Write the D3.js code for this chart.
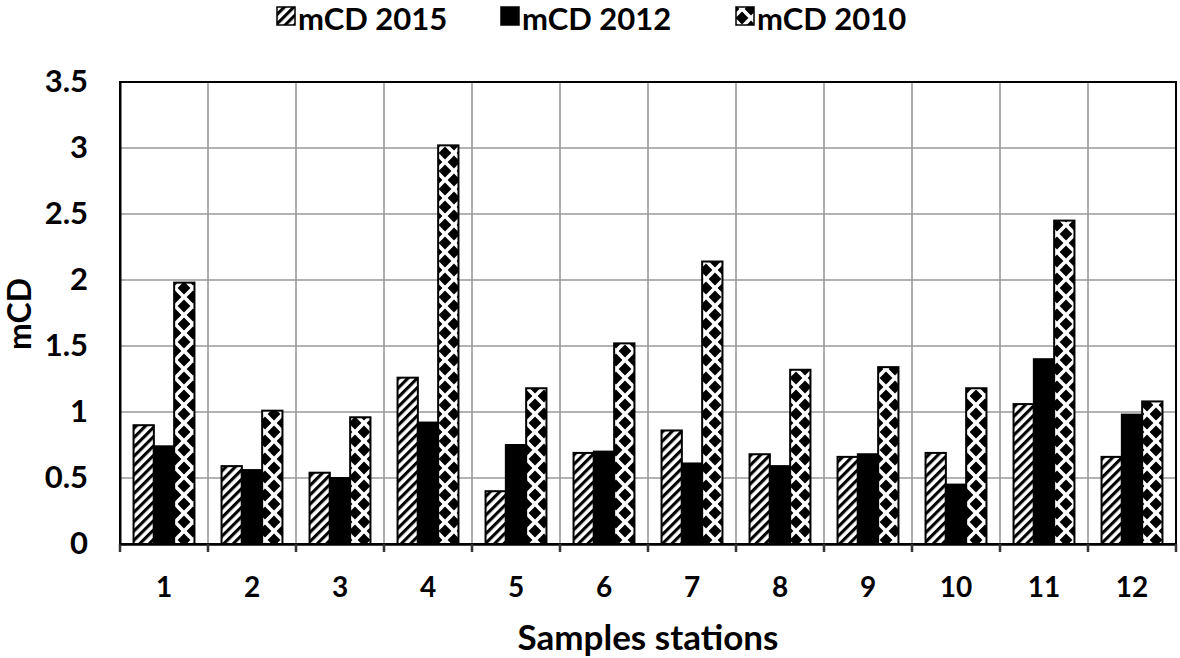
<!DOCTYPE html>
<html><head><meta charset="utf-8">
<script src="https://cdn.jsdelivr.net/npm/d3@7"></script>
<style>
html,body{margin:0;padding:0;background:#fff;}
svg{display:block;font-family:Lato,"Open Sans",sans-serif;font-weight:700;}
</style></head>
<body><svg id="c" width="1180" height="658"></svg>
<script>
const categories = ["1","2","3","4","5","6","7","8","9","10","11","12"];
const seriesNames = ["mCD 2015","mCD 2012","mCD 2010"];
const mcd2015 = [0.90,0.59,0.54,1.26,0.40,0.69,0.86,0.68,0.66,0.69,1.06,0.66];
const mcd2012 = [0.74,0.56,0.50,0.92,0.75,0.70,0.61,0.59,0.68,0.45,1.40,0.98];
const mcd2010 = [1.98,1.01,0.96,3.02,1.18,1.52,2.14,1.32,1.34,1.18,2.45,1.08];
const yTicks = [0,0.5,1,1.5,2,2.5,3,3.5];
const yTickLabels = ["0","0.5","1","1.5","2","2.5","3","3.5"];

const seriesValues = [mcd2015, mcd2012, mcd2010];
const fills = ["url(#hatch)","#000","url(#diam)"];

const svg = d3.select("#c");
const L=120, R=1176, T=82, B=544;

const defs = svg.append("defs");
const hp = defs.append("pattern").attr("id","hatch").attr("patternUnits","userSpaceOnUse")
  .attr("width",6.6).attr("height",6.6).attr("patternTransform","rotate(45)");
hp.append("rect").attr("width",6.6).attr("height",6.6).attr("fill","#fff");
hp.append("rect").attr("x",0).attr("y",0).attr("width",3.1).attr("height",6.6).attr("fill","#000");

const dp = defs.append("pattern").attr("id","diam").attr("patternUnits","userSpaceOnUse")
  .attr("width",18).attr("height",18).attr("x",4).attr("y",0);
dp.append("rect").attr("width",18).attr("height",18).attr("fill","#fff");
const dpath = (cx,cy,r)=>`M${cx},${cy-r}L${cx+r},${cy}L${cx},${cy+r}L${cx-r},${cy}Z`;
[[0,0],[18,0],[0,18],[18,18],[9,9]].forEach(([cx,cy])=>{
  dp.append("path").attr("d",dpath(cx,cy,6.4)).attr("fill","#000");
});

const x0 = d3.scaleBand().domain(categories).range([L,R]).padding(0);
const x1 = d3.scaleBand().domain(seriesNames).range([0,x0.bandwidth()]).paddingInner(0).paddingOuter(0.667);
const y = d3.scaleLinear().domain([0,3.5]).range([B,T]);

// gridlines
const g = svg.append("g");
g.selectAll("line.h").data(yTicks.filter(d=>d>0 && d<3.5)).join("line")
  .attr("x1",L).attr("x2",R).attr("y1",d=>y(d)).attr("y2",d=>y(d))
  .attr("stroke","#999").attr("stroke-width",1.6);
g.selectAll("line.v").data(categories.slice(1)).join("line")
  .attr("x1",d=>x0(d)).attr("x2",d=>x0(d)).attr("y1",T).attr("y2",B)
  .attr("stroke","#999").attr("stroke-width",1.6);

// bars
seriesNames.forEach((s,si)=>{
  svg.append("g").selectAll("rect").data(categories).join("rect")
    .attr("x",(c)=>x0(c)+x1(s))
    .attr("width",x1.bandwidth())
    .attr("y",(c,i)=>y(seriesValues[si][i]))
    .attr("height",(c,i)=>B-y(seriesValues[si][i]))
    .attr("fill",fills[si]).attr("stroke","#000").attr("stroke-width",2);
});

// frame
svg.append("rect").attr("x",L).attr("y",T).attr("width",R-L).attr("height",B-T)
  .attr("fill","none").attr("stroke","#000").attr("stroke-width",2);

// x axis
const xAxis = d3.axisBottom(x0).tickSize(0).tickPadding(33);
const xa = svg.append("g").attr("transform",`translate(0,${B})`).call(xAxis);
xa.select(".domain").attr("stroke","#000").attr("stroke-width",2.5);
xa.selectAll("text").attr("font-size",28).attr("font-family","Lato").attr("font-weight",700).attr("fill","#000");
// category boundary ticks
svg.append("g").selectAll("line").data(categories.concat(["end"])).join("line")
  .attr("x1",(d,i)=>i<categories.length?x0(d):R).attr("x2",(d,i)=>i<categories.length?x0(d):R)
  .attr("y1",B).attr("y2",B+8).attr("stroke","#333").attr("stroke-width",2.5);

// y axis
const yAxis = d3.axisLeft(y).tickValues(yTicks).tickFormat((d,i)=>yTickLabels[i]).tickSize(0).tickPadding(32);
const ya = svg.append("g").attr("transform",`translate(${L},0)`).call(yAxis);
ya.select(".domain").attr("stroke","#000").attr("stroke-width",2);
ya.selectAll("text").attr("font-size",31).attr("font-family","Lato").attr("font-weight",700).attr("fill","#000");

// axis titles
svg.append("text").attr("x",648).attr("y",650).attr("text-anchor","middle")
  .attr("font-size",35).attr("fill","#000").text("Samples stations");
svg.append("text").attr("transform","translate(31,314) rotate(-90)").attr("text-anchor","middle")
  .attr("font-size",32).attr("fill","#000").text("mCD");

// legend
const legX = [298,522,757];
const leg = svg.append("g");
seriesNames.forEach((s,i)=>{
  leg.append("rect").attr("x",legX[i]-21).attr("y",7).attr("width",18).attr("height",18)
    .attr("fill",fills[i]).attr("stroke","#000").attr("stroke-width",1.5);
  leg.append("text").attr("x",legX[i]).attr("y",30).attr("font-size",31).attr("fill","#000").text(s);
});
</script></body></html>
